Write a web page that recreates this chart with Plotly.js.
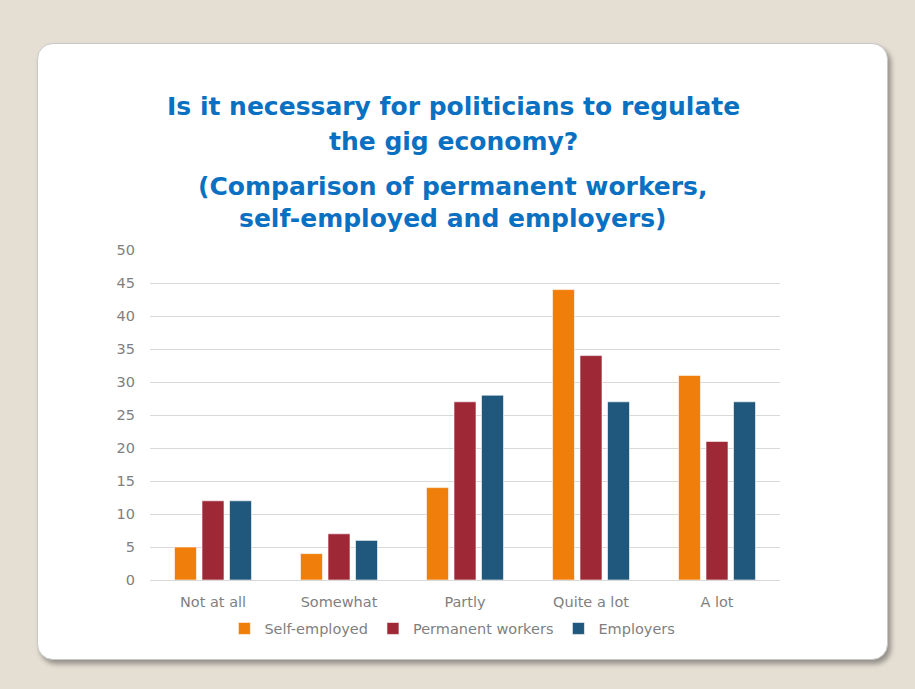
<!DOCTYPE html>
<html>
<head>
<meta charset="utf-8">
<script src="https://cdn.plot.ly/plotly-3.0.1.min.js"></script>
<style>
  html, body { margin:0; padding:0; width:915px; height:689px; background:#e4ded3; overflow:hidden; }
  #card { position:absolute; left:37px; top:43px; width:851px; height:617px; background:#ffffff;
          border-radius:16px; box-shadow:3px 4px 5px rgba(0,0,0,0.35); border:1px solid #c8c8c8; box-sizing:border-box; }
  #chart { position:absolute; left:0; top:0; width:915px; height:689px; }
</style>
</head>
<body>
<div id="card"></div>
<div id="chart"></div>
<script>
const categories = ["Not at all", "Somewhat", "Partly", "Quite a lot", "A lot"];
const selfEmployed = [5, 4, 14, 44, 31];
const permanentWorkers = [12, 7, 27, 34, 21];
const employers = [12, 6, 28, 27, 27];
const seriesNames = ["Self-employed", "Permanent workers", "Employers"];
const yTicks = [0, 5, 10, 15, 20, 25, 30, 35, 40, 45, 50];
const titleLines = [
  "Is it necessary for politicians to regulate",
  "the gig economy?",
  "(Comparison of permanent workers,",
  "self-employed and employers)"
];

const colors = ["#ef7f0a", "#9e2836", "#1f587c"];
const series = [selfEmployed, permanentWorkers, employers];

const traces = series.map((vals, i) => ({
  type: "bar",
  name: seriesNames[i],
  x: categories,
  y: vals,
  marker: { color: colors[i], line: { color: "rgba(255,255,255,0.6)", width: 1 } },
  hoverinfo: "x+y+name"
}));

const labelFont = { family: "DejaVu Sans, Verdana, sans-serif", size: 14.5, color: "#7f7f7f" };
const titleFont = { family: "DejaVu Sans, Verdana, sans-serif", size: 25, color: "#0a70c2", weight: "bold" };

// vertical centre (px from top) of each title line
const titleY = [106, 141, 186, 218];
const plotTop = 250;

const layout = {
  width: 915, height: 689,
  paper_bgcolor: "rgba(0,0,0,0)",
  plot_bgcolor: "rgba(0,0,0,0)",
  margin: { l: 150, r: 135, t: plotTop, b: 109 },
  barmode: "group",
  bargap: 0.345,
  bargroupgap: 0.2,
  showlegend: true,
  legend: {
    orientation: "h", x: 0.48, xanchor: "center", xref: "paper",
    y: -0.147, yanchor: "middle",
    font: labelFont, itemwidth: 30, traceorder: "normal",
    bgcolor: "rgba(0,0,0,0)"
  },
  xaxis: {
    tickfont: labelFont, showgrid: false, zeroline: false,
    showline: true, linecolor: "#d9d9d9", linewidth: 1,
    ticks: "", ticklen: 0, ticklabelstandoff: 9
  },
  yaxis: {
    range: [0, 50], tickvals: yTicks, ticktext: yTicks.map(String),
    tickfont: labelFont, showgrid: true, gridcolor: "#d9d9d9", gridwidth: 1,
    zeroline: false, showline: false, ticks: "", ticklabelstandoff: 14
  },
  annotations: titleLines.map((t, i) => ({
    text: t, xref: "paper", yref: "paper", x: 0.5, xanchor: "center", xshift: -12,
    y: 1, yshift: plotTop - titleY[i], yanchor: "middle",
    showarrow: false, font: titleFont, align: "center"
  }))
};

Plotly.newPlot("chart", traces, layout, { displayModeBar: false, staticPlot: true });
</script>
</body>
</html>
